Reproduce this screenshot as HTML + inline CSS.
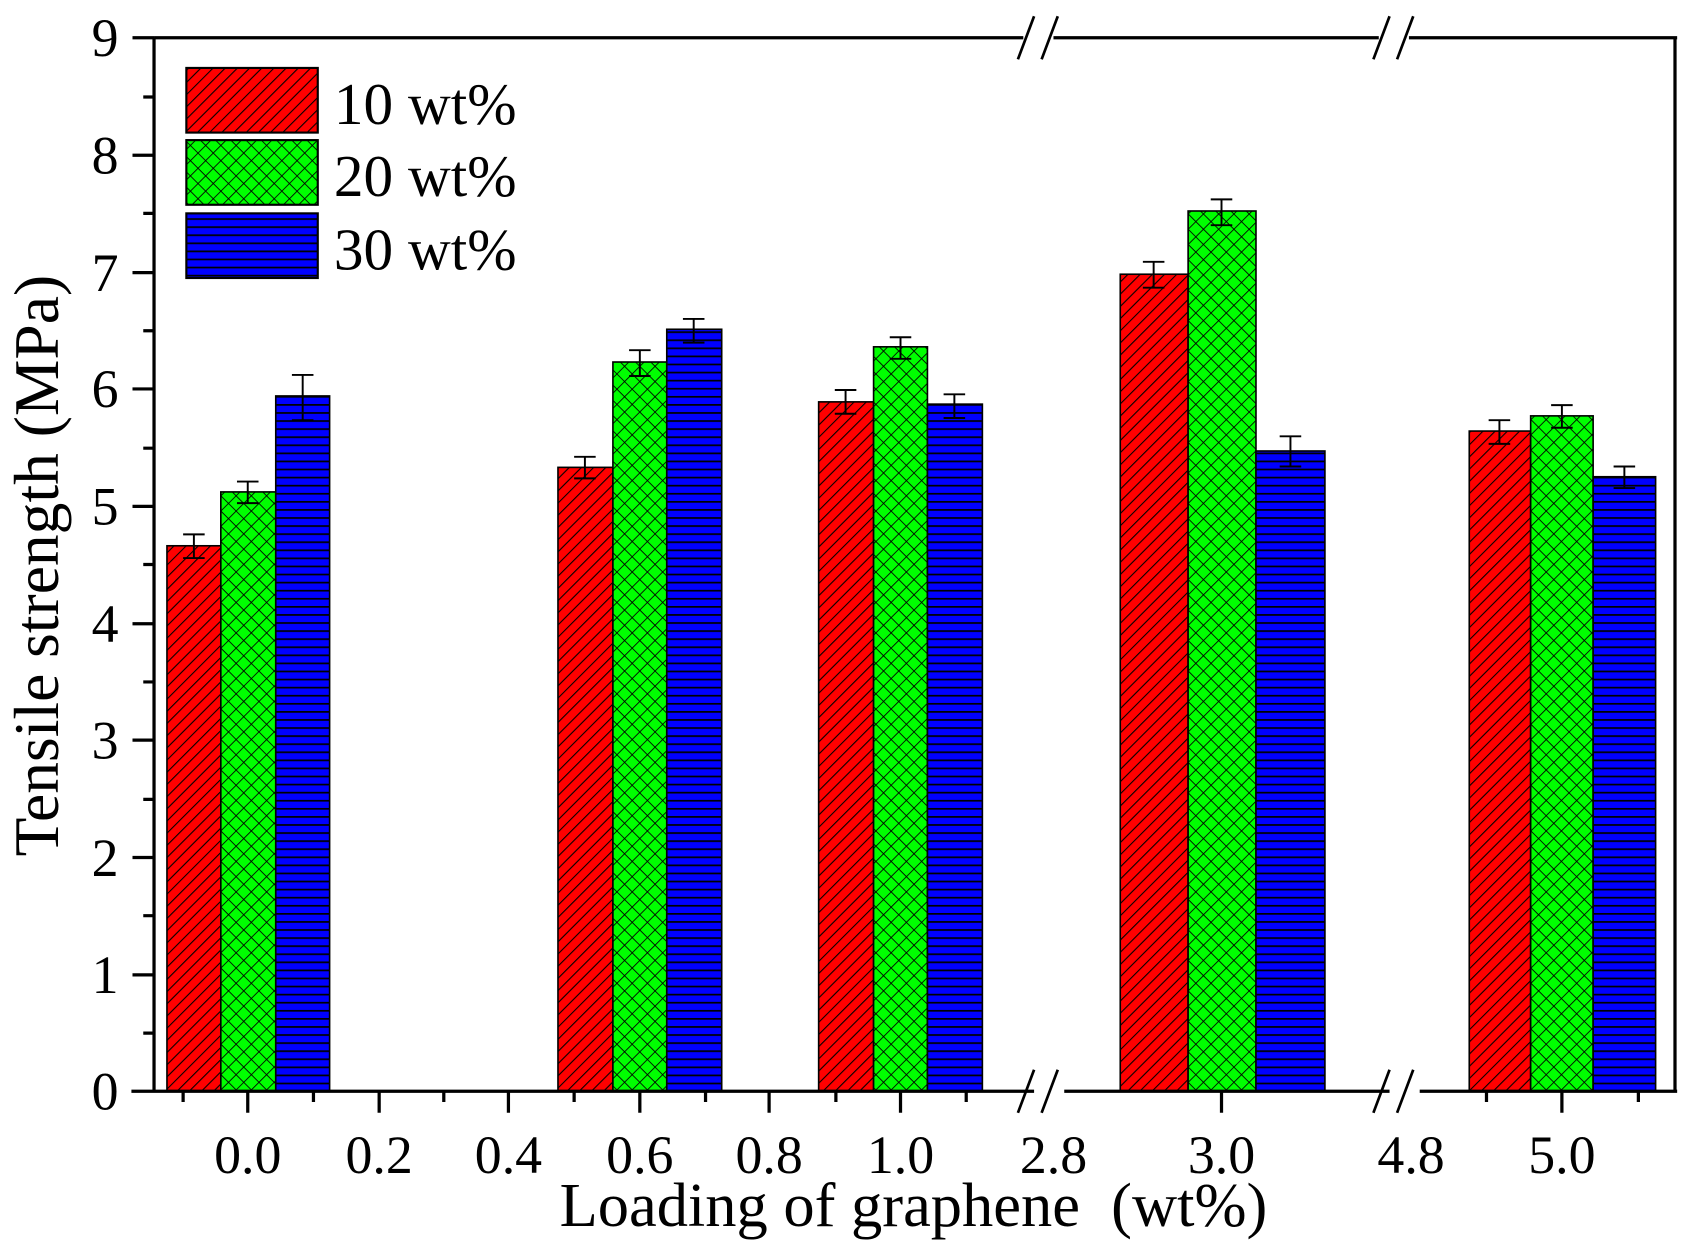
<!DOCTYPE html>
<html><head><style>html,body{margin:0;padding:0;background:#fff}svg{display:block}</style></head><body>
<svg width="1689" height="1254" viewBox="0 0 1568 1164" xmlns="http://www.w3.org/2000/svg" font-family="Liberation Serif, serif">
<defs>
<pattern id="pr" width="8" height="8" patternUnits="userSpaceOnUse" patternTransform="rotate(45)"><rect width="8" height="8" fill="#f00"/><line x1="0" y1="0" x2="0" y2="8" stroke="#000" stroke-width="2"/></pattern>
<pattern id="pg" width="10" height="10" patternUnits="userSpaceOnUse" patternTransform="rotate(45)"><rect width="10" height="10" fill="#0f0"/><line x1="0" y1="0" x2="0" y2="10" stroke="#000" stroke-width="1.6"/><line x1="0" y1="0" x2="10" y2="0" stroke="#000" stroke-width="1.6"/></pattern>
<pattern id="pb" width="8" height="7.5" patternUnits="userSpaceOnUse"><rect width="8" height="7.5" fill="#00f"/><line x1="0" y1="0.8" x2="8" y2="0.8" stroke="#000" stroke-width="1.6"/></pattern>
</defs>
<g stroke="#000" stroke-width="1.5">
<rect x="155" y="506.6" width="50" height="506.4" fill="url(#pr)"/>
<rect x="205" y="456.6" width="51" height="556.4" fill="url(#pg)"/>
<rect x="256" y="367.5" width="50" height="645.5" fill="url(#pb)"/>
<rect x="518" y="433.8" width="51" height="579.2" fill="url(#pr)"/>
<rect x="569" y="336" width="50" height="677" fill="url(#pg)"/>
<rect x="619" y="305.6" width="51" height="707.4" fill="url(#pb)"/>
<rect x="760" y="373" width="51" height="640" fill="url(#pr)"/>
<rect x="811" y="321.9" width="50" height="691.1" fill="url(#pg)"/>
<rect x="861" y="375.1" width="51" height="637.9" fill="url(#pb)"/>
<rect x="1040" y="254.5" width="63" height="758.5" fill="url(#pr)"/>
<rect x="1103" y="195.8" width="63" height="817.2" fill="url(#pg)"/>
<rect x="1166" y="418.6" width="64" height="594.4" fill="url(#pb)"/>
<rect x="1364" y="400.1" width="57" height="612.9" fill="url(#pr)"/>
<rect x="1421" y="386" width="58" height="627" fill="url(#pg)"/>
<rect x="1479" y="442.5" width="58" height="570.5" fill="url(#pb)"/>
</g>
<g stroke="#000" stroke-width="1.8" fill="none">
<path d="M180 496v22M170 496h20M170 518h20"/>
<path d="M230 447v20M220 447h20M220 467h20"/>
<path d="M281 348v42M271 348h20M271 390h20"/>
<path d="M543 424v20M533 424h20M533 444h20"/>
<path d="M594 325v24M584 325h20M584 349h20"/>
<path d="M644 296v22M634 296h20M634 318h20"/>
<path d="M785 362v22M775 362h20M775 384h20"/>
<path d="M836 313v20M826 313h20M826 333h20"/>
<path d="M886 366v22M876 366h20M876 388h20"/>
<path d="M1071 243v24M1061 243h20M1061 267h20"/>
<path d="M1134 185v24M1124 185h20M1124 209h20"/>
<path d="M1198 405v28M1188 405h20M1188 433h20"/>
<path d="M1392 390v22M1382 390h20M1382 412h20"/>
<path d="M1450 376v21M1440 376h20M1440 397h20"/>
<path d="M1508 433v20M1498 433h20M1498 453h20"/>
</g>
<g stroke="#000" stroke-width="3" fill="none">
<path d="M143 35V1013"/>
<path d="M1555 35V1013"/>
<path d="M122 1013H960M988 1013H1290M1318 1013H1557"/>
<path d="M143 35H950M978 35H1280M1308 35H1557"/>
<path d="M123 35h20M123 144h20M123 253h20M123 361h20M123 470h20M123 579h20M123 687h20M123 796h20M123 905h20"/>
<path d="M133 90h10M133 198h10M133 307h10M133 416h10M133 524h10M133 633h10M133 742h10M133 850h10M133 959h10"/>
<path d="M230 1013v20M352 1013v20M472 1013v20M594 1013v20M714 1013v20M836 1013v20M1134 1013v20M1450 1013v20"/>
<path d="M170 1013v10M291 1013v10M412 1013v10M533 1013v10M655 1013v10M776 1013v10M897 1013v10M1380 1013v10M1521 1013v10"/>
</g>
<g stroke="#000" stroke-width="2.5">
<path d="M945 1033l15-40M967 1033l15-40M1275 1033l15-40M1297 1033l15-40"/>
<path d="M945 55l15-40M967 55l15-40M1275 55l15-40M1297 55l15-40"/>
</g>
<rect x="173" y="63" width="122" height="60" fill="url(#pr)" stroke="#000" stroke-width="2"/>
<rect x="173" y="130" width="122" height="60" fill="url(#pg)" stroke="#000" stroke-width="2"/>
<rect x="173" y="198" width="122" height="60" fill="url(#pb)" stroke="#000" stroke-width="2"/>
<g font-size="55" fill="#000">
<text x="310" y="115">10 wt%</text>
<text x="310" y="182">20 wt%</text>
<text x="310" y="250">30 wt%</text>
</g>
<g font-size="50" fill="#000" text-anchor="end">
<text x="110" y="52">9</text><text x="110" y="161">8</text><text x="110" y="270">7</text>
<text x="110" y="378">6</text><text x="110" y="487">5</text><text x="110" y="596">4</text>
<text x="110" y="704">3</text><text x="110" y="813">2</text><text x="110" y="922">1</text>
<text x="110" y="1030">0</text>
</g>
<g font-size="50" fill="#000" text-anchor="middle">
<text x="230" y="1089">0.0</text><text x="352" y="1089">0.2</text><text x="472" y="1089">0.4</text>
<text x="594" y="1089">0.6</text><text x="714" y="1089">0.8</text><text x="836" y="1089">1.0</text>
<text x="978" y="1089">2.8</text><text x="1134" y="1089">3.0</text><text x="1310" y="1089">4.8</text>
<text x="1450" y="1089">5.0</text>
</g>
<text x="848" y="1138" font-size="58" text-anchor="middle" xml:space="preserve">Loading of graphene  (wt%)</text>
<text transform="translate(54,525) rotate(-90)" font-size="59" text-anchor="middle">Tensile strength (MPa)</text>
</svg>
</body></html>
